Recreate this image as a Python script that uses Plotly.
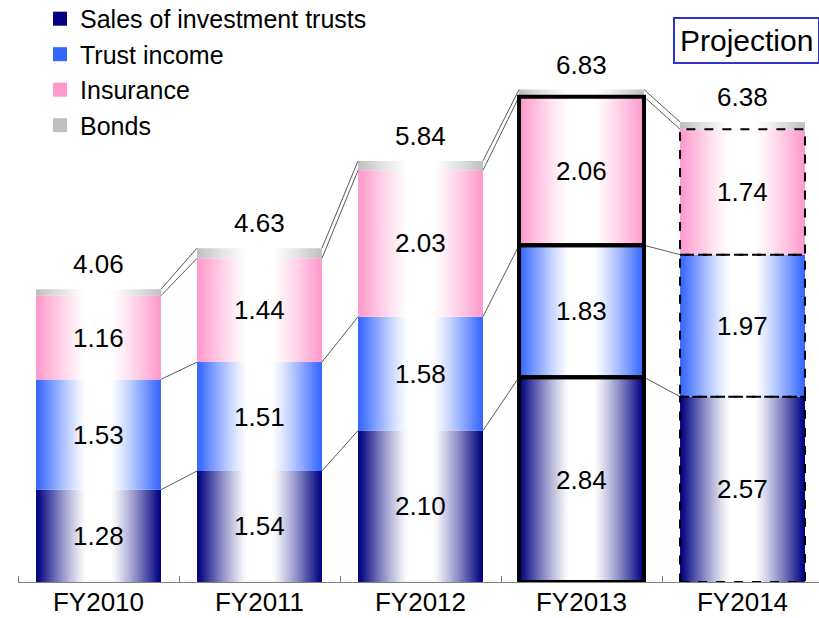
import plotly.graph_objects as go

# ---------------- data ----------------
categories = ["FY2010", "FY2011", "FY2012", "FY2013", "FY2014"]
sales = [1.28, 1.54, 2.10, 2.84, 2.57]
trust = [1.53, 1.51, 1.58, 1.83, 1.97]
insurance = [1.16, 1.44, 2.03, 2.06, 1.74]
bonds = [0.09, 0.14, 0.13, 0.10, 0.10]
totals = [4.06, 4.63, 5.84, 6.83, 6.38]

series_names = ["Sales of investment trusts", "Trust income", "Insurance", "Bonds"]
series_values = [sales, trust, insurance, bonds]
series_colors = ["#000080", "#3366FF", "#FF99CC", "#C0C0C0"]
labelled = [True, True, True, False]

FONT = "Liberation Sans, Arial, sans-serif"
BAR_W = 0.776

xpos = list(range(len(categories)))


def hex_to_rgb(h):
    h = h.lstrip("#")
    return tuple(int(h[k:k + 2], 16) for k in (0, 2, 4))


def profile(u):
    # u: distance from bar centre as a fraction of half-width (0 centre, 1 edge)
    f = max(0.0, (u - 0.2) / 0.78)
    return min(1.0, f) ** 1.2


def mix(base, f):
    r, g, b = hex_to_rgb(base)
    return "rgb(%d,%d,%d)" % (round(255 + (r - 255) * f),
                              round(255 + (g - 255) * f),
                              round(255 + (b - 255) * f))


def gradient_scale(base, n=30):
    return [[k / n, mix(base, profile(abs(k / n - 0.5) * 2))] for k in range(n + 1)]


fig = go.Figure()

# cumulative bases
bases = []
running = [0.0] * len(categories)
for vals in series_values:
    bases.append(list(running))
    running = [running[i] + vals[i] for i in range(len(categories))]

# legend entries (square swatches)
for name, col in zip(series_names, series_colors):
    fig.add_trace(go.Scatter(
        x=[None], y=[None], mode="markers",
        marker=dict(symbol="square", size=14, color=col),
        name=name, legendgroup=name, showlegend=True, hoverinfo="skip",
    ))

# stacked segments: one gradient-filled rectangle per segment, placed on the data axes
for s, (name, vals, col) in enumerate(zip(series_names, series_values, series_colors)):
    cs = gradient_scale(col)
    for i in range(len(categories)):
        x0, x1 = xpos[i] - BAR_W / 2, xpos[i] + BAR_W / 2
        y0, y1 = bases[s][i], bases[s][i] + vals[i]
        fig.add_trace(go.Scatter(
            x=[x0, x1, x1, x0, x0], y=[y0, y0, y1, y1, y0],
            mode="none", fill="toself", fillcolor=col,
            fillgradient=dict(type="horizontal", colorscale=cs),
            name=name, legendgroup=name, showlegend=False,
            hoverinfo="skip",
        ))

# connector lines between bars
for s in range(len(series_values)):
    level = [bases[s][i] + series_values[s][i] for i in range(len(categories))]
    xs, ys = [], []
    for i in range(len(categories) - 1):
        xs += [xpos[i] + BAR_W / 2, xpos[i + 1] - BAR_W / 2, None]
        ys += [level[i], level[i + 1], None]
    fig.add_trace(go.Scatter(x=xs, y=ys, mode="lines",
                             line=dict(color="#303030", width=0.8),
                             showlegend=False, hoverinfo="skip"))

# outlines for FY2013 (solid thick) and FY2014 (dashed)
outline_styles = {3: dict(color="black", width=4), 4: dict(color="black", width=2, dash="dash")}
for i, style in outline_styles.items():
    for s in range(3):
        fig.add_shape(type="rect", xref="x", yref="y",
                      x0=xpos[i] - BAR_W / 2, x1=xpos[i] + BAR_W / 2,
                      y0=bases[s][i], y1=bases[s][i] + series_values[s][i],
                      line=style, fillcolor="rgba(0,0,0,0)", layer="above")

annotations = []
for s, vals in enumerate(series_values):
    if not labelled[s]:
        continue
    for i, v in enumerate(vals):
        annotations.append(dict(x=xpos[i], y=bases[s][i] + v / 2, text=f"{v:.2f}",
                                xanchor="center", yanchor="middle",
                                showarrow=False, font=dict(size=26, color="black", family=FONT)))
for i, tot in enumerate(totals):
    annotations.append(dict(x=xpos[i], y=tot, text=f"{tot:.2f}", yshift=25,
                            xanchor="center", yanchor="middle",
                            showarrow=False, font=dict(size=26, color="black", family=FONT)))
annotations.append(dict(xref="paper", yref="paper", x=0.909, y=0.931, text="Projection",
                        xanchor="center", yanchor="middle",
                        showarrow=False, font=dict(size=30, color="black", family=FONT),
                        bordercolor="#3333CC", borderwidth=2, borderpad=5, bgcolor="white"))

fig.update_layout(
    width=819, height=618,
    margin=dict(l=18, r=0, t=0, b=36, autoexpand=False),
    paper_bgcolor="white", plot_bgcolor="white",
    font=dict(family=FONT, color="black"),
    showlegend=True,
    legend=dict(x=0.0275, y=1.007, xanchor="left", yanchor="top",
                traceorder="normal", bgcolor="rgba(0,0,0,0)",
                font=dict(size=25, family=FONT, color="black"),
                tracegroupgap=2, itemwidth=30),
    annotations=annotations,
    xaxis=dict(range=[-0.5, 4.475], tickvals=xpos, ticktext=categories,
               ticks="", ticklen=0, ticklabelstandoff=-3,
               showgrid=False, zeroline=False,
               showline=True, linecolor="#808080", linewidth=1,
               tickfont=dict(size=26, family=FONT, color="black"),
               minor=dict(tickvals=[-0.5, 0.5, 1.5, 2.5, 3.5], ticks="inside",
                          ticklen=6, tickcolor="#808080", showgrid=False)),
    yaxis=dict(range=[0, 8.072], visible=False, showgrid=False, zeroline=False),
)

fig.write_html("out.html",
               config={"displayModeBar": False},
               post_script="document.body.style.margin='0';document.body.style.overflow='hidden';")
